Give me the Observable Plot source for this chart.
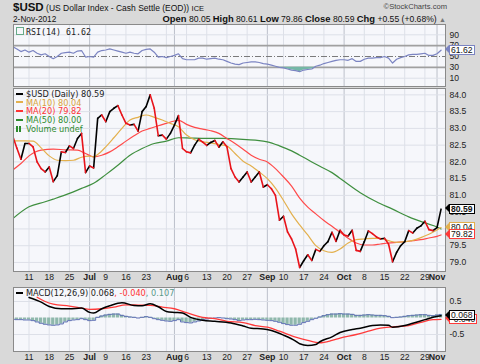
<!DOCTYPE html>
<html><head><meta charset="utf-8">
<script src="https://cdn.jsdelivr.net/npm/d3@7"></script>
<script src="https://cdn.jsdelivr.net/npm/@observablehq/plot@0.6"></script>
<style>
body{margin:0;width:480px;height:364px;background:#d9d9d9;position:relative;overflow:hidden;font-family:"Liberation Sans",Arial,sans-serif;color:#111}
.abs{position:absolute;white-space:nowrap}
.leg{position:absolute;font-family:"DejaVu Sans",Verdana,sans-serif;font-size:8.2px;line-height:8.7px;white-space:nowrap;color:#222}
.leg i{display:inline-block;width:7px;height:2px;vertical-align:middle;margin-right:3px;position:relative;top:-1px}
.panel{position:absolute;left:0}
.tag{position:absolute;left:449px;height:8px;line-height:8px;padding:0 1px;background:#fff;border:1px solid #000;font-size:8.6px;color:#111;white-space:nowrap}
.tag span{position:absolute;left:-5px;top:-0.5px;width:0;height:0;border-top:4.5px solid transparent;border-bottom:4.5px solid transparent;border-right:4px solid #000}
</style></head><body>
<div class="abs" style="left:13px;top:0px;font-size:8.5px;line-height:14px"><b style="font-size:11.5px">$USD</b> (US Dollar Index - Cash Settle (EOD)) <span style="font-size:7.5px">ICE</span></div>
<div class="abs" id="date" style="left:13px;top:14px;font-size:8.3px;line-height:10px"></div>
<div class="abs" id="ohlc" style="right:34px;top:14px;font-size:8.6px;line-height:10px"></div>
<div class="abs" style="right:33px;top:2px;font-size:7.6px;color:#444">©StockCharts.com</div>
<div class="panel" id="rsi" style="top:24px"></div>
<div class="panel" id="main" style="top:88px"></div>
<div class="panel" id="macd" style="top:287px"></div>
<div class="leg" style="left:16px;top:27px;font-family:'DejaVu Sans Mono',monospace;font-size:8.3px"><span style="display:inline-block;width:6px;height:6px;border:1px solid #6a8;margin-right:2px"></span>RSI(14) 61.62</div>
<div class="leg" style="left:16px;top:90px">
<div><i style="background:#000"></i>$USD (Daily) 80.59</div>
<div style="color:#d9a23a"><i style="background:#e3b04d"></i>MA(10) 80.04</div>
<div style="color:#f33"><i style="background:#f33"></i>MA(20) 79.82</div>
<div style="color:#2e8b2e"><i style="background:#2e8b2e"></i>MA(50) 80.00</div>
<div style="color:#2e8b2e"><span style="display:inline-block;width:7px;height:6px;margin-right:3px;background:linear-gradient(90deg,#2e8b2e 2px,transparent 2px,transparent 3px,#2e8b2e 3px,#2e8b2e 5px,transparent 5px)"></span>Volume undef</div>
</div>
<div class="leg" style="left:16px;top:289px"><i style="background:#000"></i>MACD(12,26,9) 0.068<span style="color:#f33">, -0.040</span><span style="color:#5a9a88">, 0.107</span></div>
<div id="tags"></div>
<script>
// ---------- data (trading-day index: 0 = 11 Jun 2012) ----------
const firstIdx = -4;
const closes = [82.76,82.41,82.08,82.55,82.55,82.45,82.00,81.80,81.70,81.85,81.41,81.59,82.30,82.28,82.48,82.40,82.70,82.85,81.68,81.88,81.82,83.30,83.40,83.20,83.50,83.60,83.68,83.40,83.15,83.10,83.12,82.92,83.50,83.65,84.00,83.60,82.78,82.80,82.68,82.85,83.10,83.38,82.40,82.30,82.27,82.50,82.68,82.59,82.49,82.58,82.64,82.44,82.60,82.45,81.80,81.55,81.40,81.55,81.70,81.40,81.55,81.70,81.25,81.32,81.20,81.00,80.26,80.38,79.91,79.70,79.40,78.85,79.05,79.23,79.06,79.39,79.33,79.50,79.62,79.90,79.63,79.96,79.82,79.79,79.96,79.36,79.33,79.62,79.94,79.86,79.76,79.70,79.72,79.55,79.02,79.30,79.50,79.62,79.95,79.88,80.02,80.09,80.23,79.98,79.95,80.04,80.59];
const ma10 = [[-4,82.63],[-1,82.63],[1,82.62],[3,82.42],[5,82.18],[7,82.05],[9,82.04],[11,82.05],[13,82.14],[15,82.17],[16,82.15],[17,82.22],[19,82.45],[21,82.72],[23,83.00],[25,83.25],[27,83.33],[29,83.40],[31,83.33],[33,83.25],[35,83.15],[37,83.05],[39,82.80],[41,82.66],[43,82.60],[45,82.57],[47,82.52],[49,82.47],[51,82.25],[53,82.02],[55,81.88],[57,81.70],[59,81.50],[61,81.22],[63,80.85],[65,80.45],[67,80.12],[69,79.82],[71,79.50],[73,79.35],[75,79.30],[77,79.40],[79,79.58],[81,79.68],[83,79.70],[85,79.72],[87,79.72],[89,79.65],[91,79.60],[93,79.62],[95,79.66],[97,79.74],[99,79.84],[101,79.97],[102,80.04]];
const ma20 = [[-4,81.76],[-2,81.95],[0,82.18],[3,82.35],[6,82.38],[9,82.36],[12,82.35],[14,82.25],[16,82.15],[18,82.20],[20,82.30],[22,82.45],[24,82.62],[26,82.78],[28,82.92],[30,83.00],[32,83.08],[34,83.15],[36,83.22],[37,83.24],[39,83.12],[41,83.03],[43,82.98],[45,82.93],[47,82.85],[49,82.70],[51,82.55],[53,82.38],[55,82.20],[57,82.08],[59,82.00],[61,81.80],[63,81.55],[65,81.28],[67,80.92],[69,80.65],[71,80.45],[73,80.25],[75,80.08],[77,79.90],[79,79.72],[81,79.58],[83,79.52],[85,79.52],[87,79.55],[89,79.58],[91,79.60],[93,79.62],[95,79.65],[97,79.68],[99,79.73],[101,79.78],[102,79.82]];
const ma50 = [[-4,80.31],[0,80.66],[4,80.81],[6,80.89],[10,81.06],[13,81.21],[16,81.36],[19,81.62],[22,81.90],[25,82.20],[28,82.40],[31,82.55],[34,82.62],[37,82.72],[40,82.71],[44,82.70],[48,82.70],[52,82.68],[56,82.65],[59,82.60],[62,82.48],[65,82.33],[67,82.20],[70,82.00],[72,81.87],[75,81.68],[78,81.42],[82,81.08],[86,80.81],[90,80.59],[94,80.36],[98,80.18],[101,80.06],[102,80.00]];
const rsi = [68,64,59,62,58,61,56,53,55,50,46,50,56,57,58,56,60,61,49,50,49,58,61,62,64,62,60,58,56,58,56,55,61,63,64,58,49,50,48,50,52,55,46,44,44,44,47,47,45,46,47,45,44,41,38,36,35,38,39,40,40,39,37,36,34,32,30,29,27,25,24,22,25,26,27,32,34,37,39,41,43,44,44,43,46,41,41,45,47,47,48,48,50,47,38,45,48,50,53,54,54,55,56,52,52,55,61.62];
const macd = [[0,0.62],[3,0.48],[5,0.35],[8,0.28],[10,0.28],[13,0.30],[15,0.17],[16,0.15],[18,0.28],[20,0.37],[23,0.46],[26,0.38],[28,0.37],[30,0.43],[32,0.34],[34,0.20],[36,0.17],[38,0.15],[40,0.02],[43,-0.07],[46,-0.10],[50,-0.15],[53,-0.24],[55,-0.31],[58,-0.33],[60,-0.38],[63,-0.52],[66,-0.70],[67,-0.78],[69,-0.83],[71,-0.80],[72,-0.72],[75,-0.57],[77,-0.44],[80,-0.35],[82,-0.31],[85,-0.23],[87,-0.21],[89,-0.22],[90,-0.28],[93,-0.23],[95,-0.16],[98,-0.05],[100,0.02],[102,0.068]];
const signal = [[2,0.63],[4,0.50],[6,0.42],[10,0.36],[13,0.30],[15,0.26],[18,0.28],[21,0.33],[24,0.40],[27,0.39],[30,0.38],[33,0.33],[36,0.28],[39,0.16],[43,0.02],[46,-0.02],[49,-0.10],[53,-0.14],[56,-0.23],[59,-0.28],[62,-0.40],[66,-0.58],[69,-0.68],[72,-0.75],[75,-0.68],[77,-0.61],[81,-0.50],[84,-0.40],[87,-0.31],[90,-0.27],[94,-0.23],[97,-0.13],[100,-0.05],[102,-0.04]];
const hist = [-0.04,-0.05,-0.05,-0.06,-0.06,-0.08,-0.12,-0.16,-0.19,-0.21,-0.22,-0.21,-0.18,-0.12,-0.08,-0.06,-0.05,-0.02,-0.05,-0.08,-0.07,0.02,0.06,0.09,0.11,0.12,0.12,0.08,0.05,0.03,0.02,0.00,0.02,0.04,0.02,-0.02,-0.05,-0.07,-0.09,-0.10,-0.08,-0.05,-0.12,-0.14,-0.15,-0.12,-0.09,-0.05,-0.03,-0.01,0.00,0.01,0.00,-0.02,-0.03,-0.05,-0.08,-0.06,-0.05,-0.05,-0.04,-0.05,-0.06,-0.07,-0.08,-0.10,-0.13,-0.17,-0.20,-0.22,-0.22,-0.19,-0.14,-0.10,-0.05,-0.01,0.03,0.07,0.10,0.12,0.12,0.13,0.12,0.12,0.11,0.08,0.08,0.09,0.10,0.09,0.08,0.08,0.07,0.05,0.01,0.02,0.03,0.05,0.07,0.08,0.09,0.10,0.10,0.08,0.07,0.09,0.107];
const dayLabelIdx = [0,5,10,19,24,29,39,44,49,54,63,68,73,83,88,93,98];
const dayLabels = ["11","18","25","9","16","23","6","13","20","27","10","17","24","8","15","22","29"];
const monthIdx = [15,36,59,78,101];
const monthLabels = ["Jul","Aug","Sep","Oct","Nov"];
const weekIdx = [0,5,10,19,24,29,34,39,44,49,54,63,68,73,83,88,93,98];
const priceTicks = [79.0,79.5,80.0,80.5,81.0,81.5,82.0,82.5,83.0,83.5,84.0];
const rsiTicks = [10,30,50,70,90];
const macdTicks = [0.5,-0.5];
const quoteDate = "2-Nov-2012";
const quoteNames = ["Open","High","Low","Close","Chg"];
const quoteValues = ["80.05","80.61","79.86","80.59","+0.55 (+0.68%)"];
const closeTag = [{name:"Close", v:80.59}];
const maTags = [{name:"MA10", v:80.04},{name:"MA20", v:79.82}];
const rsiTag = [{name:"RSI", v:61.62}];
const macdTags = [{name:"Signal", v:-0.040},{name:"MACD", v:0.068}];

// ---------- styles ----------
const C = {bg:"#f6f7fb", grid:"#dde0e8", month:"#bcc0ca", frame:"#8a8a8a", up:"#000", down:"#e8141b",
  ma10:"#e3b04d", ma20:"#ff4a4a", ma50:"#3f8f3f", rsi:"#7b84c2", rsiFill:"#74b7a6",
  macd:"#000", sig:"#ff3a3a", hist:"#8fb8ac", histLine:"#5f70b4"};
const tagColor = {Close:"#000", MA10:"#e3b04d", MA20:"#ff3a3a", RSI:"#7b84c2", Signal:"#ff3a3a", MACD:"#000"};
const W = 480, ML = 13, MR = 35;
const xDom = [-3.84, 103.1];
const font = "Liberation Sans, Arial, sans-serif";

document.getElementById("date").textContent = quoteDate;
document.getElementById("ohlc").innerHTML = quoteNames.map((n,k)=>`<b style="font-size:9.4px">${n}</b> ${quoteValues[k]}`).join(" ") + ' <span style="color:#777;font-size:7px">▲</span>';

const closeData = closes.map((v,k)=>({i:firstIdx+k, v}));
const segs = closeData.slice(1).map((d,k)=>({i0:closeData[k].i, v0:closeData[k].v, i1:d.i, v1:d.v}));
const rsiData = rsi.map((v,k)=>({i:firstIdx+k, v}));
const histData = hist.map((h,k)=>({i:firstIdx+k, h}));
const dayT = dayLabelIdx.map((i,k)=>({i, t:dayLabels[k]}));
const monT = monthIdx.map((i,k)=>({i, t:monthLabels[k]}));
const pair = a => a.map(([i,v])=>({i,v}));

function base(height, mb, yDom) {
  return {width:W, height, marginLeft:ML, marginRight:MR, marginTop:0, marginBottom:mb,
    x:{domain:xDom, axis:null}, y:{domain:yDom, axis:null},
    style:{background:"transparent", fontFamily:font, overflow:"visible", color:"#222"}};
}
function grids(){
  return [Plot.frame({fill:C.bg}),
    Plot.ruleX(weekIdx,{stroke:C.grid}),
    Plot.ruleX(monthIdx,{stroke:C.month})];
}
function xLabels(){
  return [Plot.text(dayT,{x:"i", text:"t", frameAnchor:"bottom", dy:8.5, fontSize:8.6, fill:"#222"}),
    Plot.text(monT,{x:"i", text:"t", frameAnchor:"bottom", dy:8.5, fontSize:8.8, fontWeight:"bold", fill:"#222"})];
}
function yLabels(ticks, fmt){
  return Plot.text(ticks,{y:d=>d, text:fmt, frameAnchor:"right", textAnchor:"start", dx:4, fontSize:8.6, fill:"#222"});
}
// value tags at the right edge, placed with the plot's own y scale
function addTags(plot, panelTop, data, fmt, bold){
  const ys = plot.scale("y");
  const host = document.getElementById("tags");
  data.forEach(d=>{
    const y = panelTop + ys.apply(d.v);
    const el = document.createElement("div");
    el.className = "tag";
    el.style.top = (y - 5) + "px";
    el.style.borderColor = tagColor[d.name];
    if (bold) el.style.fontWeight = "bold";
    el.textContent = fmt(d.v);
    const arr = document.createElement("span");
    arr.style.borderRightColor = tagColor[d.name];
    el.appendChild(arr);
    host.appendChild(el);
  });
}

// ---------- RSI panel ----------
const rsiPlot = Plot.plot({...base(62, 0, [-5.3,109]), marks:[
  ...grids(),
  Plot.ruleY([10,90],{stroke:C.grid}),
  Plot.ruleY([30,70],{stroke:"#a0a0a0", strokeWidth:1.6}),
  Plot.ruleY([50],{stroke:"#7a7a7a", strokeDasharray:"6,2,1,2"}),
  Plot.areaY(rsiData,{x:"i", y1:30, y2:d=>Math.min(d.v,30), fill:C.rsiFill, clip:true}),
  Plot.line(rsiData,{x:"i", y:"v", stroke:C.rsi, strokeWidth:1.2, clip:true}),
  Plot.frame({stroke:C.frame}),
  yLabels(rsiTicks, d=>String(d))
]});
document.getElementById("rsi").appendChild(rsiPlot);

// ---------- price panel ----------
const mainPlot = Plot.plot({...base(197, 14, [78.73,84.19]), marks:[
  ...grids(),
  Plot.ruleY(priceTicks,{stroke:C.grid}),
  Plot.line(pair(ma50),{x:"i", y:"v", stroke:C.ma50, strokeWidth:1.2, curve:"monotone-x", clip:true}),
  Plot.line(pair(ma20),{x:"i", y:"v", stroke:C.ma20, strokeWidth:1.2, curve:"monotone-x", clip:true}),
  Plot.line(pair(ma10),{x:"i", y:"v", stroke:C.ma10, strokeWidth:1.2, curve:"monotone-x", clip:true}),
  Plot.link(segs.filter(s=>s.v1>=s.v0),{x1:"i0", y1:"v0", x2:"i1", y2:"v1", stroke:C.up, strokeWidth:1.6, strokeLinecap:"round", clip:true}),
  Plot.link(segs.filter(s=>s.v1<s.v0),{x1:"i0", y1:"v0", x2:"i1", y2:"v1", stroke:C.down, strokeWidth:1.6, strokeLinecap:"round", clip:true}),
  Plot.frame({stroke:C.frame}),
  yLabels(priceTicks, d=>d.toFixed(1)),
  ...xLabels()
]});
document.getElementById("main").appendChild(mainPlot);

// ---------- MACD panel ----------
const macdPlot = Plot.plot({...base(77, 13, [-1.015,0.924]), marks:[
  ...grids(),
  Plot.ruleY(macdTicks,{stroke:C.grid}),
  Plot.rectY(histData,{x1:d=>d.i-0.5, x2:d=>d.i+0.5, y1:0, y2:"h", fill:C.hist, insetLeft:0.4, insetRight:0.4, clip:true}),
  Plot.line(histData,{x:"i", y:"h", curve:"step", stroke:C.histLine, strokeWidth:1, clip:true}),
  Plot.line(pair(signal),{x:"i", y:"v", stroke:C.sig, strokeWidth:1.3, curve:"monotone-x", clip:true}),
  Plot.line(pair(macd),{x:"i", y:"v", stroke:C.macd, strokeWidth:1.5, curve:"monotone-x", clip:true}),
  Plot.frame({stroke:C.frame}),
  yLabels(macdTicks, d=>String(d)),
  ...xLabels()
]});
document.getElementById("macd").appendChild(macdPlot);

addTags(rsiPlot, 24, rsiTag, v=>v.toFixed(2), false);
addTags(mainPlot, 88, maTags, v=>v.toFixed(2), false);
addTags(mainPlot, 88, closeTag, v=>v.toFixed(2), true);
addTags(macdPlot, 287, macdTags, v=>v.toFixed(3), false);
</script>
</body></html>
